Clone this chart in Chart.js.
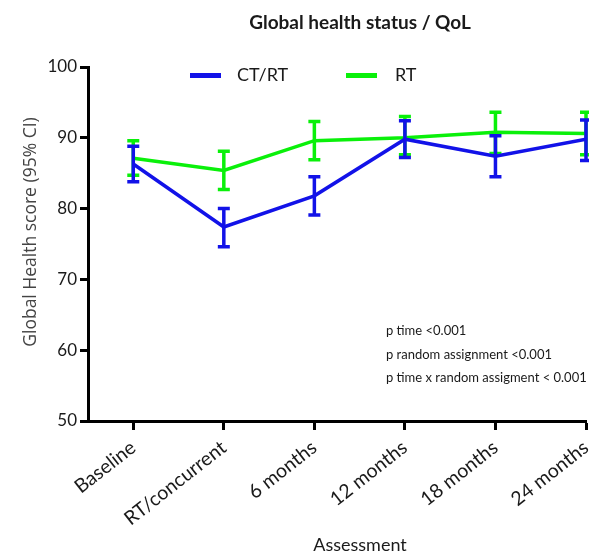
<!DOCTYPE html>
<html>
<head>
<meta charset="utf-8">
<script src="https://cdn.jsdelivr.net/npm/chart.js@4"></script>
<style>
  body { margin: 0; background: #fff; }
</style>
</head>
<body>
<canvas id="myChart" width="589" height="558"></canvas>
<script>
// values
var labels = ['Baseline', 'RT/concurrent', '6 months', '12 months', '18 months', '24 months'];
var ctrtMean = [86.3, 77.4, 81.8, 89.8, 87.4, 89.8];
var ctrtLow  = [83.8, 74.6, 79.1, 87.2, 84.5, 86.8];
var ctrtHigh = [88.8, 80.0, 84.5, 92.4, 90.3, 92.5];
var rtMean = [87.1, 85.4, 89.6, 90.0, 90.8, 90.6];
var rtLow  = [84.7, 82.7, 86.9, 87.6, 87.8, 87.6];
var rtHigh = [89.6, 88.1, 92.3, 93.0, 93.6, 93.6];
var notes = ['p time <0.001', 'p random assignment <0.001', 'p time x random assigment < 0.001'];

var BLUE = '#1212e8';
var GREEN = '#0af00a';

function points(arr) {
    return arr.map(function (v, i) { return { x: i, y: v }; });
}

// error bars, drawn right after each line so stacking order matches
var errorBars = {
    id: 'errorBars',
    afterDatasetDraw: function (chart, args) {
        var ds = chart.data.datasets[args.index];
        var xs = chart.scales.x, ys = chart.scales.y;
        var c = chart.ctx;
        c.save();
        c.strokeStyle = ds.borderColor;
        c.lineWidth = 3.5;
        ds.low.forEach(function (lo, i) {
            var px = xs.getPixelForValue(i);
            var y1 = ys.getPixelForValue(lo);
            var y2 = ys.getPixelForValue(ds.high[i]);
            c.beginPath();
            c.moveTo(px, y1); c.lineTo(px, y2);
            c.moveTo(px - 6, y1); c.lineTo(px + 6, y1);
            c.moveTo(px - 6, y2); c.lineTo(px + 6, y2);
            c.stroke();
        });
        c.restore();
    }
};

// title, legend, notes, axis titles
var extras = {
    id: 'extras',
    afterDraw: function (chart) {
        var c = chart.ctx;
        c.save();
        c.fillStyle = '#1a1a1a';
        c.textBaseline = 'middle';
        c.textAlign = 'center';
        c.font = 'bold 19px Lato';
        c.fillText('Global health status / QoL', 360, 23);

        c.font = '18px Lato';
        c.fillText('Assessment', 360, 545);

        c.save();
        c.translate(31, 232);
        c.rotate(-Math.PI / 2);
        c.fillStyle = '#444';
        c.font = '17.5px "Open Sans"';
        c.fillText('Global Health score (95% CI)', 0, 0);
        c.restore();

        c.textAlign = 'left';
        var leg = [[190, 237], [346, 395]];
        chart.data.datasets.forEach(function (ds, i) {
            c.fillStyle = ds.borderColor;
            c.fillRect(leg[i][0], 73, 31, 5);
            c.fillStyle = '#1a1a1a';
            c.fillText(ds.label, leg[i][1], 75);
        });

        c.font = '13px Lato';
        notes.forEach(function (t, i) {
            c.fillText(t, 386, 331 + i * 23.5);
        });
        c.restore();
    }
};

var ctx = document.getElementById('myChart');
var myChart = new Chart(ctx, {
    type: 'line',
    data: {
        datasets: [{
            label: 'CT/RT',
            data: points(ctrtMean),
            low: ctrtLow,
            high: ctrtHigh,
            borderColor: BLUE,
            borderWidth: 3.5,
            pointRadius: 0,
            tension: 0
        }, {
            label: 'RT',
            data: points(rtMean),
            low: rtLow,
            high: rtHigh,
            borderColor: GREEN,
            borderWidth: 3.5,
            pointRadius: 0,
            tension: 0
        }]
    },
    options: {
        responsive: false,
        animation: false,
        layout: {
            padding: { top: 67, right: 3, left: 0, bottom: 0 }
        },
        scales: {
            x: {
                type: 'linear',
                min: -0.5,
                max: 5,
                afterBuildTicks: function (scale) {
                    scale.ticks = labels.map(function (l, i) { return { value: i }; });
                },
                afterFit: function (scale) {
                    scale.height = 137;
                    scale.paddingLeft = 0;
                    scale.paddingRight = 0;
                },
                border: { color: '#000', width: 3 },
                grid: { drawOnChartArea: false, tickLength: 9, tickWidth: 3, tickColor: '#000' },
                ticks: {
                    minRotation: 38,
                    maxRotation: 38,
                    autoSkip: false,
                    padding: 6,
                    color: '#1a1a1a',
                    font: { family: 'Lato', size: 19.5 },
                    callback: function (v) { return labels[v]; }
                }
            },
            y: {
                min: 50,
                max: 100,
                afterFit: function (scale) {
                    scale.width = 88;
                },
                border: { color: '#000', width: 3 },
                grid: { drawOnChartArea: false, tickLength: 8, tickWidth: 3, tickColor: '#000' },
                ticks: {
                    stepSize: 10,
                    padding: 3,
                    color: '#1a1a1a',
                    font: { family: 'Lato', size: 17 }
                }
            }
        },
        plugins: {
            legend: { display: false },
            tooltip: { enabled: false }
        }
    },
    plugins: [errorBars, extras]
});
</script>
</body>
</html>
